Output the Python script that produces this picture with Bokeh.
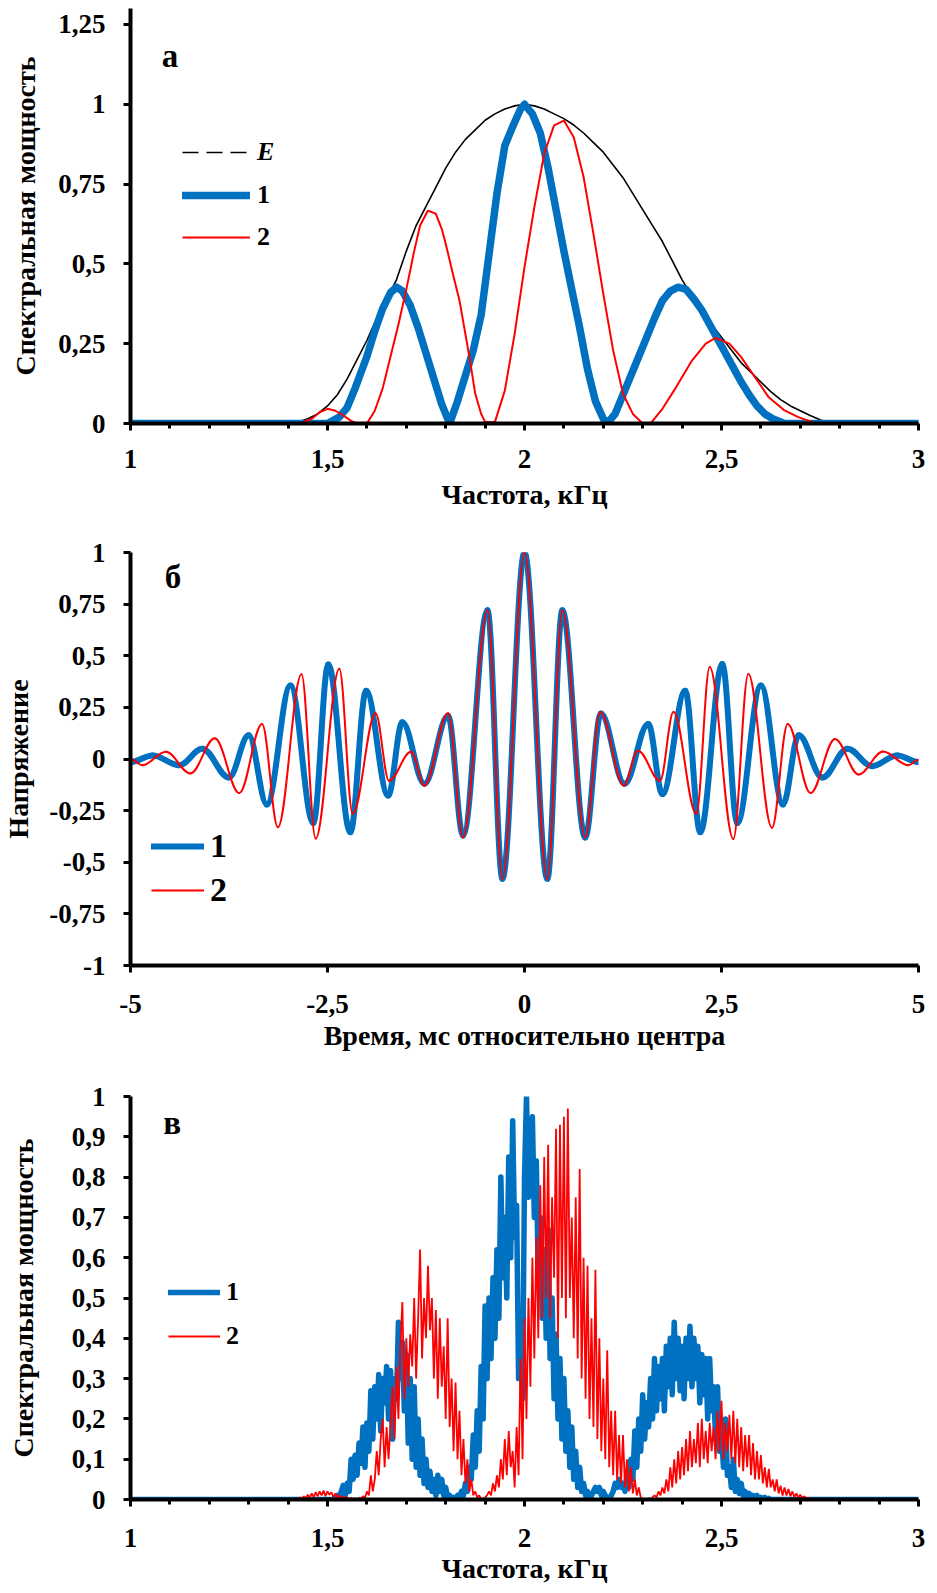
from bokeh.plotting import figure
from bokeh.models import (Range1d, FixedTicker, CustomJSTickFormatter, Legend,
                          LegendItem, Label, ColumnDataSource)
from bokeh.layouts import column
from bokeh.embed import file_html
from bokeh.resources import INLINE

FONT = "Liberation Serif"
BLUE = "#0070C0"
RED = "#FF0000"
NAN = float("nan")

# ---------------- Panel а: spectral power vs frequency ----------------
freq_env = [1.0, 1.40, 1.425, 1.45, 1.475, 1.50, 1.525, 1.55, 1.575, 1.60,
            1.625, 1.65, 1.675, 1.70, 1.725, 1.75, 1.775, 1.80, 1.825, 1.85,
            1.875, 1.90, 1.925, 1.95, 1.975, 2.00, 2.025, 2.05, 2.075, 2.10,
            2.125, 2.15, 2.175, 2.20, 2.225, 2.25, 2.275, 2.30, 2.325, 2.35,
            2.375, 2.40, 2.425, 2.45, 2.475, 2.50, 2.525, 2.55, 2.575, 2.60,
            2.625, 2.65, 2.675, 2.70, 2.725, 2.75, 2.775, 2.80, 3.0]
env = [0, 0, 0.005, 0.015, 0.03, 0.055, 0.09, 0.14, 0.20, 0.26,
       0.33, 0.39, 0.45, 0.54, 0.62, 0.68, 0.74, 0.80, 0.85, 0.89,
       0.92, 0.95, 0.97, 0.985, 0.995, 1.0, 0.995, 0.985, 0.97, 0.955,
       0.935, 0.91, 0.88, 0.85, 0.81, 0.77, 0.72, 0.67, 0.62, 0.57,
       0.51, 0.45, 0.40, 0.35, 0.31, 0.27, 0.23, 0.19, 0.16, 0.13,
       0.10, 0.075, 0.055, 0.04, 0.025, 0.012, 0, 0, 0]

freq_a1 = [1.00, 1.50, 1.53, 1.55, 1.57, 1.60, 1.62, 1.64, 1.66, 1.675,
           1.69, 1.71, 1.73, 1.75, 1.77, 1.79, 1.81, 1.83, 1.85, 1.87,
           1.89, 1.91, 1.93, 1.95, 1.97, 1.99, 2.00, 2.02, 2.04, 2.06,
           2.08, 2.10, 2.12, 2.14, 2.16, 2.18, 2.20, 2.21, 2.23, 2.25,
           2.27, 2.29, 2.31, 2.33, 2.35, 2.37, 2.39, 2.41, 2.43, 2.45,
           2.47, 2.49, 2.51, 2.53, 2.55, 2.57, 2.59, 2.61, 2.63, 2.66, 3.00]
pow_a1 = [0, 0, 0.02, 0.05, 0.11, 0.21, 0.29, 0.36, 0.41, 0.427,
          0.415, 0.37, 0.30, 0.22, 0.14, 0.06, 0.0, 0.07, 0.15, 0.23,
          0.34, 0.53, 0.72, 0.87, 0.93, 0.985, 1.0, 0.97, 0.91, 0.80,
          0.67, 0.54, 0.42, 0.30, 0.17, 0.07, 0.015, 0.0, 0.03, 0.09,
          0.15, 0.21, 0.27, 0.33, 0.385, 0.415, 0.427, 0.42, 0.39, 0.355,
          0.31, 0.265, 0.22, 0.175, 0.13, 0.09, 0.055, 0.03, 0.015, 0.0, 0.0]

freq_a2 = [1.00, 1.43, 1.46, 1.48, 1.50, 1.52, 1.54, 1.56, 1.575, 1.60,
           1.62, 1.64, 1.66, 1.68, 1.70, 1.72, 1.735, 1.755, 1.775, 1.79,
           1.80, 1.82, 1.835, 1.86, 1.875, 1.89, 1.90, 1.925, 1.95, 1.975,
           2.00, 2.025, 2.05, 2.075, 2.10, 2.125, 2.15, 2.175, 2.20, 2.225,
           2.25, 2.275, 2.30, 2.32, 2.35, 2.385, 2.425, 2.46, 2.485, 2.52,
           2.55, 2.585, 2.62, 2.66, 2.695, 2.74, 3.00]
pow_a2 = [0, 0, 0.015, 0.035, 0.046, 0.04, 0.025, 0.008, 0, 0,
          0.04, 0.11, 0.21, 0.31, 0.42, 0.54, 0.62, 0.667, 0.657, 0.61,
          0.563, 0.46, 0.385, 0.21, 0.093, 0.03, 0.005, 0.005, 0.103, 0.281,
          0.49, 0.678, 0.845, 0.934, 0.949, 0.897, 0.772, 0.594, 0.406, 0.229,
          0.093, 0.03, 0, 0, 0.046, 0.114, 0.197, 0.25, 0.268, 0.25,
          0.208, 0.145, 0.082, 0.041, 0.02, 0, 0]

# ---------------- Panel б: voltage vs time (extrema of the waveforms) ----------------
time_b1 = [-5.00, -4.72, -4.38, -4.09, -3.75, -3.50, -3.27, -2.97, -2.68, -2.49,
           -2.21, -2.01, -1.73, -1.55, -1.27, -0.97, -0.78, -0.47, -0.28, 0.00,
           0.29, 0.48, 0.77, 0.97, 1.27, 1.57, 1.75, 2.04, 2.23, 2.51,
           2.70, 3.00, 3.28, 3.48, 3.78, 4.10, 4.41, 4.73, 5.00]
volt_b1 = [-0.015, 0.017, -0.03, 0.05, -0.09, 0.115, -0.22, 0.356, -0.31, 0.458,
           -0.355, 0.33, -0.177, 0.178, -0.12, 0.21, -0.37, 0.72, -0.58, 1.00,
           -0.58, 0.72, -0.38, 0.22, -0.12, 0.17, -0.17, 0.33, -0.355, 0.46,
           -0.31, 0.356, -0.22, 0.115, -0.09, 0.05, -0.035, 0.017, -0.015]

time_b2 = [-5.00, -4.85, -4.55, -4.24, -3.93, -3.62, -3.33, -3.13, -2.83, -2.65,
           -2.35, -2.18, -1.89, -1.72, -1.44, -1.27, -0.97, -0.78, -0.47, -0.28,
           0.00, 0.29, 0.48, 0.77, 0.96, 1.26, 1.44, 1.72, 1.89, 2.18,
           2.35, 2.65, 2.84, 3.14, 3.34, 3.63, 3.94, 4.24, 4.55, 4.87, 5.00]
volt_b2 = [0.0, -0.03, 0.035, -0.07, 0.10, -0.165, 0.17, -0.33, 0.41, -0.385,
           0.437, -0.265, 0.222, -0.105, 0.035, -0.128, 0.222, -0.38, 0.72, -0.58,
           1.00, -0.58, 0.72, -0.38, 0.227, -0.128, 0.04, -0.105, 0.227, -0.265,
           0.445, -0.387, 0.412, -0.333, 0.17, -0.165, 0.097, -0.075, 0.036, -0.03, -0.004]

# ---------------- Panel в: measured spectral power (step 0.005 kHz, 1.40..2.80) ----------------
freq_c = [1.0] + [round(1.40 + 0.005 * i, 3) for i in range(281)] + [3.0]
pow_c1 = [
    0, 0, 0, 0, 0, 0, 0, 0, 0, 0, 0, 0, 0, 0, 0, 0, 0, 0, 0, 0,
    0, 0, 0, 0, 0.005, 0.01, 0.005, 0.02, 0.035, 0.01, 0.04, 0.02, 0.10, 0.05, 0.11, 0.06, 0.14, 0.09, 0.18, 0.08,
    0.19, 0.12, 0.27, 0.15, 0.28, 0.20, 0.31, 0.17, 0.30, 0.24, 0.33, 0.20, 0.32, 0.15, 0.30, 0.25, 0.44, 0.30, 0.39, 0.22,
    0.36, 0.14, 0.30, 0.10, 0.28, 0.08, 0.20, 0.06, 0.15, 0.04, 0.10, 0.03, 0.07, 0.02, 0.05, 0.01, 0.06, 0.02, 0.05, 0.01,
    0.03, 0.005, 0.01, 0.0, 0.005, 0.0, 0.01, 0.005, 0.02, 0.01, 0.04, 0.02, 0.08, 0.05, 0.16, 0.08, 0.22, 0.12, 0.33, 0.20,
    0.48, 0.30, 0.50, 0.35, 0.55, 0.40, 0.62, 0.45, 0.80, 0.55, 0.70, 0.50, 0.85, 0.60, 0.94, 0.65, 0.73, 0.30, 0.45, 0.25,
    0.80, 1.00, 0.75, 0.90, 0.95, 0.70, 0.84, 0.55, 0.70, 0.45, 0.62, 0.40, 0.67, 0.35, 0.50, 0.25, 0.41, 0.20, 0.35, 0.15,
    0.30, 0.12, 0.22, 0.08, 0.18, 0.05, 0.12, 0.03, 0.08, 0.02, 0.04, 0.01, 0.02, 0.0, 0.01, 0.02, 0.03, 0.02, 0.03, 0.01,
    0.02, 0.01, 0.005, 0.0, 0.01, 0.02, 0.04, 0.03, 0.05, 0.03, 0.04, 0.02, 0.06, 0.03, 0.10, 0.05, 0.17, 0.08, 0.20, 0.12,
    0.26, 0.15, 0.24, 0.18, 0.30, 0.20, 0.35, 0.22, 0.33, 0.25, 0.35, 0.22, 0.38, 0.28, 0.40, 0.26, 0.44, 0.30, 0.40, 0.27,
    0.38, 0.25, 0.40, 0.30, 0.43, 0.28, 0.40, 0.30, 0.38, 0.24, 0.36, 0.26, 0.35, 0.20, 0.35, 0.22, 0.28, 0.15, 0.28, 0.12,
    0.16, 0.08, 0.20, 0.06, 0.08, 0.03, 0.10, 0.02, 0.05, 0.015, 0.04, 0.01, 0.02, 0.005, 0.015, 0.005, 0.01, 0.0, 0.01, 0.0,
    0.005, 0, 0.005, 0, 0.003, 0, 0, 0, 0, 0, 0, 0, 0, 0, 0, 0, 0, 0, 0, 0,
    0, 0, 0, 0, 0, 0, 0, 0, 0, 0, 0, 0, 0, 0, 0, 0, 0, 0, 0, 0,
    0]
pow_c2 = [
    0, 0, 0, 0, 0.002, 0.0, 0.005, 0.002, 0.008, 0.003, 0.012, 0.005, 0.015, 0.006, 0.018, 0.008, 0.02, 0.01, 0.022, 0.008,
    0.02, 0.012, 0.018, 0.006, 0.015, 0.005, 0.01, 0.003, 0.008, 0.002, 0.005, 0.001, 0.004, 0.001, 0.003, 0.0, 0.004, 0.002, 0.008, 0.004,
    0.02, 0.01, 0.06, 0.02, 0.05, 0.12, 0.06, 0.15, 0.20, 0.08, 0.18, 0.10, 0.19, 0.28, 0.15, 0.33, 0.20, 0.38, 0.49, 0.25,
    0.40, 0.28, 0.41, 0.33, 0.50, 0.30, 0.45, 0.62, 0.35, 0.50, 0.40, 0.58, 0.42, 0.50, 0.30, 0.47, 0.25, 0.45, 0.28, 0.38,
    0.20, 0.45, 0.18, 0.30, 0.12, 0.29, 0.10, 0.22, 0.06, 0.15, 0.04, 0.10, 0.02, 0.05, 0.01, 0.02, 0.005, 0.01, 0.0, 0.002,
    0.005, 0.01, 0.02, 0.01, 0.04, 0.02, 0.06, 0.03, 0.10, 0.05, 0.15, 0.06, 0.17, 0.08, 0.12, 0.03, 0.18, 0.06, 0.35, 0.10,
    0.45, 0.20, 0.50, 0.28, 0.60, 0.35, 0.65, 0.40, 0.78, 0.45, 0.85, 0.50, 0.88, 0.45, 0.75, 0.55, 0.92, 0.40, 0.93, 0.50,
    0.95, 0.45, 0.97, 0.50, 0.70, 0.40, 0.75, 0.35, 0.82, 0.30, 0.60, 0.25, 0.58, 0.20, 0.45, 0.18, 0.57, 0.15, 0.40, 0.12,
    0.30, 0.10, 0.37, 0.08, 0.22, 0.06, 0.22, 0.05, 0.16, 0.04, 0.16, 0.03, 0.10, 0.02, 0.08, 0.015, 0.05, 0.01, 0.03, 0.005,
    0.0, 0.002, 0.0, 0.003, 0.0, 0.005, 0.01, 0.005, 0.02, 0.01, 0.03, 0.015, 0.05, 0.02, 0.08, 0.03, 0.10, 0.04, 0.12, 0.05,
    0.13, 0.06, 0.15, 0.07, 0.17, 0.08, 0.15, 0.09, 0.19, 0.08, 0.20, 0.10, 0.17, 0.09, 0.19, 0.12, 0.18, 0.10, 0.22, 0.12,
    0.245, 0.10, 0.19, 0.12, 0.21, 0.10, 0.22, 0.09, 0.20, 0.08, 0.18, 0.07, 0.16, 0.08, 0.16, 0.06, 0.14, 0.05, 0.12, 0.05,
    0.11, 0.04, 0.08, 0.03, 0.076, 0.03, 0.05, 0.02, 0.05, 0.015, 0.034, 0.01, 0.03, 0.01, 0.026, 0.008, 0.02, 0.006, 0.015, 0.005,
    0.012, 0.004, 0.008, 0.002, 0.004, 0.001, 0.002, 0, 0, 0, 0, 0, 0, 0, 0, 0, 0, 0, 0, 0,
    0]
pow_c1 = [0.0] + pow_c1 + [0.0]
pow_c2 = [0.0] + pow_c2 + [0.0]

assert len(freq_env) == len(env)
assert len(freq_a1) == len(pow_a1)
assert len(freq_a2) == len(pow_a2)
assert len(time_b1) == len(volt_b1)
assert len(time_b2) == len(volt_b2)
assert len(freq_c) == len(pow_c1) == len(pow_c2), (len(freq_c), len(pow_c1), len(pow_c2))

ticks_fa = [1, 1.5, 2, 2.5, 3]
minor_fa = [1.1, 1.2, 1.3, 1.4, 1.6, 1.7, 1.8, 1.9, 2.1, 2.2, 2.3, 2.4,
            2.6, 2.7, 2.8, 2.9]
ticks_ya = [0, 0.25, 0.5, 0.75, 1, 1.25]
ticks_tb = [-5, -2.5, 0, 2.5, 5]
ticks_yb = [-1, -0.75, -0.5, -0.25, 0, 0.25, 0.5, 0.75, 1]
ticks_yc = [0, 0.1, 0.2, 0.3, 0.4, 0.5, 0.6, 0.7, 0.8, 0.9, 1]

COMMA = "return tick.toString().replace('.', ',')"


def make_fig(height, top, bottom, right, xr, yr):
    p = figure(width=937, height=height, x_range=xr, y_range=yr,
               output_backend="svg", toolbar_location=None,
               min_border_left=128, min_border_right=right,
               min_border_top=top, min_border_bottom=bottom)
    p.outline_line_color = None
    p.xgrid.visible = False
    p.ygrid.visible = False
    p.background_fill_color = "white"
    p.border_fill_color = "white"
    return p


def style_axis(ax, label, ticks, minor, lbl_standoff, title_standoff):
    ax.axis_label = label
    ax.axis_label_text_font = FONT
    ax.axis_label_text_font_style = "bold"
    ax.axis_label_text_font_size = "28px"
    ax.axis_label_text_color = "black"
    ax.axis_label_standoff = title_standoff
    ax.major_label_text_font = FONT
    ax.major_label_text_font_style = "bold"
    ax.major_label_text_font_size = "27px"
    ax.major_label_text_color = "black"
    ax.major_label_standoff = lbl_standoff
    ax.ticker = FixedTicker(ticks=ticks, minor_ticks=minor)
    ax.formatter = CustomJSTickFormatter(code=COMMA)
    ax.axis_line_color = "black"
    ax.axis_line_width = 4
    ax.major_tick_line_color = "black"
    ax.major_tick_line_width = 3
    ax.major_tick_out = 7
    ax.major_tick_in = 0
    ax.minor_tick_line_color = "black"
    ax.minor_tick_line_width = 3
    ax.minor_tick_out = 5 if minor else 0
    ax.minor_tick_in = 0


def add_legend(p, renderer, text, vx, vy, glyph_w, font_size, standoff,
               style="bold", h=36):
    leg = Legend(items=[LegendItem(label=text, renderers=[renderer])],
                 location=(vx, vy), orientation="vertical",
                 padding=0, margin=0, spacing=0,
                 glyph_width=glyph_w, glyph_height=h, label_height=h,
                 label_standoff=standoff,
                 label_text_font=FONT, label_text_font_style=style,
                 label_text_font_size=font_size, label_text_color="black",
                 background_fill_alpha=0, border_line_alpha=0)
    p.add_layout(leg)


def panel_letter(p, x, y, text):
    p.add_layout(Label(x=x, y=y, text=text, text_font=FONT,
                       text_font_style="bold", text_font_size="33px",
                       text_align="center", text_baseline="alphabetic",
                       text_color="black"))


def smooth_wave(p, t, v, **style):
    # Smoothed line through the read extrema (Excel-like smoothed line):
    # cubic Bezier between consecutive extrema with horizontal tangents.
    k = 0.36
    x0, x1 = t[:-1], t[1:]
    src = ColumnDataSource(dict(
        x0=x0, y0=v[:-1], x1=x1, y1=v[1:],
        cx0=[a + k * (b - a) for a, b in zip(x0, x1)], cy0=v[:-1],
        cx1=[b - k * (b - a) for a, b in zip(x0, x1)], cy1=v[1:]))
    return p.bezier(x0="x0", y0="y0", x1="x1", y1="y1", cx0="cx0", cy0="cy0",
                    cx1="cx1", cy1="cy1", source=src, **style)


# ---- figure а ----
pa = make_fig(520, 8, 97, 12, Range1d(1, 3), Range1d(0, 1.30))
style_axis(pa.xaxis[0], "Частота, кГц", ticks_fa, minor_fa, 19, 8)
style_axis(pa.yaxis[0], "Спектральная мощность", ticks_ya, [], 18, 14)
pa.line(freq_env, env, line_color="black", line_width=1.6)
ra1 = pa.line(freq_a1, pow_a1, line_color=BLUE, line_width=7.5,
              line_cap="round", line_join="round")
ra2 = pa.line(freq_a2, pow_a2, line_color=RED, line_width=2)
re_leg = pa.line([NAN, NAN], [NAN, NAN], line_color="black", line_width=1.6,
                 line_dash="16 8")
add_legend(pa, re_leg, "E", 52, 253, 68, "26px", 7, style="bold italic")
add_legend(pa, ra1, "1", 52, 210, 68, "26px", 7)
add_legend(pa, ra2, "2", 52, 168, 68, "26px", 7)
panel_letter(pa, 1.10, 1.15, "а")

# ---- figure б ----
pb = make_fig(540, 32, 95, 19, Range1d(-5, 5), Range1d(-1, 1))
style_axis(pb.xaxis[0], "Время, мс относительно центра", ticks_tb, [], 22, 4)
style_axis(pb.yaxis[0], "Напряжение", ticks_yb, [], 18, 12)
smooth_wave(pb, time_b1, volt_b1, line_color=BLUE, line_width=6,
            line_cap="round")
smooth_wave(pb, time_b2, volt_b2, line_color=RED, line_width=2,
            line_cap="round")
lb1 = pb.line([NAN, NAN], [NAN, NAN], line_color=BLUE, line_width=6,
              line_cap="round")
lb2 = pb.line([NAN, NAN], [NAN, NAN], line_color=RED, line_width=2)
add_legend(pb, lb1, "1", 21, 99, 53, "34px", 6, h=40)
add_legend(pb, lb2, "2", 21, 55, 53, "34px", 6, h=40)
panel_letter(pb, -4.46, 0.88, "б")

# ---- figure в ----
pc = make_fig(533, 36, 94, 10, Range1d(1, 3), Range1d(0, 1))
style_axis(pc.xaxis[0], "Частота, кГц", ticks_fa, minor_fa, 22, 3)
style_axis(pc.yaxis[0], "Спектральная мощность", ticks_yc, [], 18, 30)
rc1 = pc.line(freq_c, pow_c1, line_color=BLUE, line_width=5.5,
              line_join="round")
rc2 = pc.line(freq_c, pow_c2, line_color=RED, line_width=1.8)
lc1 = pc.line([NAN, NAN], [NAN, NAN], line_color=BLUE, line_width=5.5,
              line_cap="round")
add_legend(pc, lc1, "1", 38, 189, 52, "26px", 6)
add_legend(pc, rc2, "2", 38, 145, 52, "26px", 6)
panel_letter(pc, 1.106, 0.934, "в")

layout = column(pa, pb, pc, spacing=0)
open("out.html", "w").write(file_html(layout, INLINE))
